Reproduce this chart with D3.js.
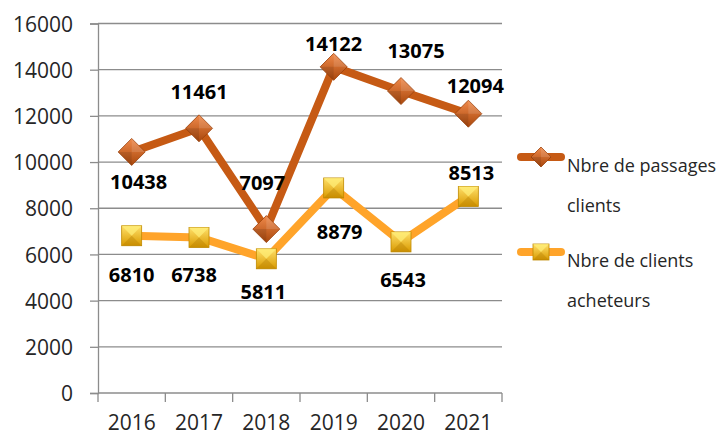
<!DOCTYPE html>
<html>
<head>
<meta charset="utf-8">
<script src="https://cdn.jsdelivr.net/npm/d3@7"></script>
<style>
  body { margin: 0; background: #fff; }
  svg { display: block; font-family: "Open Sans", sans-serif; }
</style>
</head>
<body>
<svg id="chart" width="721" height="435"></svg>
<script>
// data
var years = ["2016", "2017", "2018", "2019", "2020", "2021"];
var passages = [10438, 11461, 7097, 14122, 13075, 12094];
var acheteurs = [6810, 6738, 5811, 8879, 6543, 8513];
var yTicks = [0, 2000, 4000, 6000, 8000, 10000, 12000, 14000, 16000];
var seriesNames = [["Nbre de passages", "clients"], ["Nbre de clients", "acheteurs"]];

// label offsets (px) relative to each point
var passagesLabelOff = [[7, 30], [0, -37], [-4, -46], [0, -23], [15, -40], [7, -28]];
var acheteursLabelOff = [[0, 39], [-5, 37], [-3, 33], [6, 44], [2, 38], [3, -24]];

var svg = d3.select("#chart");

var x = d3.scaleBand().domain(years).range([98, 502]).padding(0);
var y = d3.scaleLinear().domain([0, 16000]).range([393, 23.5]);

var defs = svg.append("defs");
var gd = defs.append("linearGradient").attr("id", "gDiam")
	.attr("x1", 0).attr("y1", 0).attr("x2", 0).attr("y2", 1);
gd.append("stop").attr("offset", "0%").attr("stop-color", "#F08A4B");
gd.append("stop").attr("offset", "100%").attr("stop-color", "#A9470C");
var gs = defs.append("linearGradient").attr("id", "gSq")
	.attr("x1", 0).attr("y1", 0).attr("x2", 0).attr("y2", 1);
gs.append("stop").attr("offset", "0%").attr("stop-color", "#FFE06A");
gs.append("stop").attr("offset", "100%").attr("stop-color", "#D99A00");

// gridlines
svg.append("g")
	.selectAll("line")
	.data(yTicks.slice(1))
	.join("line")
	.attr("x1", 98).attr("x2", 502)
	.attr("y1", d => y(d)).attr("y2", d => y(d))
	.attr("stroke", "#8c8c8c").attr("stroke-width", 1.3);

// y axis
var yAxis = d3.axisLeft(y).tickValues(yTicks).tickSize(8).tickPadding(17).tickFormat(d3.format("d"));
svg.append("g")
	.attr("transform", "translate(98,0)")
	.call(yAxis)
	.call(g => g.select(".domain").attr("stroke", "#8c8c8c").attr("stroke-width", 1.3))
	.call(g => g.selectAll(".tick line").attr("stroke", "#8c8c8c").attr("stroke-width", 1.3))
	.call(g => g.selectAll("text").attr("font-size", 21).attr("fill", "#262626")
		.attr("font-family", "Open Sans, sans-serif").attr("dy", "0.36em"));

// x axis: ticks between categories
var xAxisG = svg.append("g").attr("transform", "translate(0,393)");
xAxisG.append("line").attr("x1", 98).attr("x2", 502)
	.attr("stroke", "#8c8c8c").attr("stroke-width", 1.3);
xAxisG.selectAll("line.tk")
	.data(years.concat(["end"]))
	.join("line").attr("class", "tk")
	.attr("x1", (d, i) => i < years.length ? x(d) : x.range()[1])
	.attr("x2", (d, i) => i < years.length ? x(d) : x.range()[1])
	.attr("y1", 0).attr("y2", 9)
	.attr("stroke", "#8c8c8c").attr("stroke-width", 1.3);
xAxisG.selectAll("text")
	.data(years)
	.join("text")
	.attr("x", d => x(d) + x.bandwidth() / 2)
	.attr("y", 37)
	.attr("text-anchor", "middle")
	.attr("font-size", 21).attr("fill", "#262626")
	.text(d => d);

var cx = d => x(d) + x.bandwidth() / 2;

var line = d3.line().x((d, i) => cx(years[i])).y(d => y(d));

function diamond(g, s) {
	g.append("path")
		.attr("d", `M0,${-s}L${s},0L0,${s}L${-s},0Z`)
		.attr("fill", "url(#gDiam)")
		.attr("stroke", "#9A400A").attr("stroke-width", 0.8);
	g.append("path")
		.attr("d", `M0,${-s}L${s},0L0,0Z`)
		.attr("fill", "#ffffff").attr("opacity", 0.12);
	g.append("path")
		.attr("d", `M0,${s}L${-s},0L0,0Z`)
		.attr("fill", "#000000").attr("opacity", 0.1);
}
function square(g, s) {
	g.append("rect")
		.attr("x", -s).attr("y", -s).attr("width", 2 * s).attr("height", 2 * s)
		.attr("fill", "url(#gSq)")
		.attr("stroke", "#C08A00").attr("stroke-width", 0.8);
	g.append("path")
		.attr("d", `M${-s},${-s}L${s},${-s}L0,0Z`)
		.attr("fill", "#FFF07A").attr("opacity", 0.7);
	g.append("path")
		.attr("d", `M${-s},${s}L${s},${s}L0,0Z`)
		.attr("fill", "#B07800").attr("opacity", 0.35);
}

// series lines
svg.append("path").datum(acheteurs)
	.attr("d", line).attr("fill", "none")
	.attr("stroke", "#FFA42A").attr("stroke-width", 8).attr("stroke-linejoin", "round");
svg.append("path").datum(passages)
	.attr("d", line).attr("fill", "none")
	.attr("stroke", "#C65A14").attr("stroke-width", 8).attr("stroke-linejoin", "round");

// markers
svg.append("g").selectAll("g")
	.data(acheteurs).join("g")
	.attr("transform", (d, i) => `translate(${cx(years[i])},${y(d)})`)
	.each(function () { square(d3.select(this), 10); });
svg.append("g").selectAll("g")
	.data(passages).join("g")
	.attr("transform", (d, i) => `translate(${cx(years[i])},${y(d)})`)
	.each(function () { diamond(d3.select(this), 13.5); });

// data labels
function labels(vals, offs) {
	svg.append("g").selectAll("text")
		.data(vals).join("text")
		.attr("x", (d, i) => cx(years[i]) + offs[i][0])
		.attr("y", (d, i) => y(d) + offs[i][1])
		.attr("dy", "0.36em")
		.attr("text-anchor", "middle")
		.attr("font-size", 20).attr("font-weight", "bold").attr("fill", "#000")
		.text(d => d);
}
labels(passages, passagesLabelOff);
labels(acheteurs, acheteursLabelOff);

// legend
var leg = svg.append("g");
[0, 1].forEach(function (k) {
	var g = leg.append("g").attr("transform", `translate(541,${k === 0 ? 157 : 252})`);
	g.append("line").attr("x1", -20).attr("x2", 20)
		.attr("stroke", k === 0 ? "#C65A14" : "#FFA42A")
		.attr("stroke-width", 8).attr("stroke-linecap", "round");
	if (k === 0) diamond(g, 10); else square(g, 8);
	g.selectAll("text")
		.data(seriesNames[k]).join("text")
		.attr("x", 26)
		.attr("y", (d, i) => 15 + i * 40)
		.attr("font-size", 18).attr("fill", "#262626")
		.text(d => d);
});
</script>
</body>
</html>
